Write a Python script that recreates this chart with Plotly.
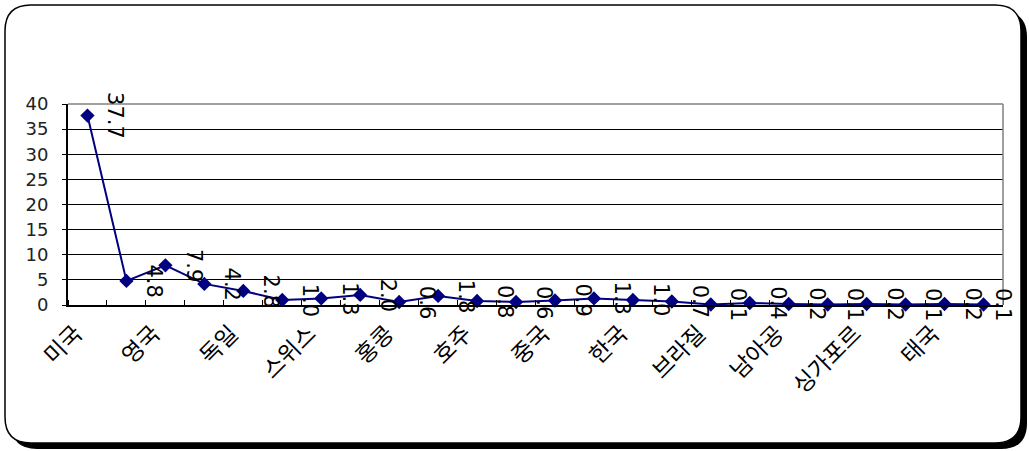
import plotly.graph_objects as go

# ---- data ----
countries_all = ["미국", "", "영국", "", "독일", "", "스위스", "", "홍콩", "", "호주", "",
                 "중국", "", "한국", "", "브라질", "", "남아공", "", "싱가포르", "", "태국", ""]
values = [37.7, 4.8, 7.9, 4.2, 2.8, 1.0, 1.3, 2.0, 0.6, 1.8, 0.8, 0.6,
          0.9, 1.3, 1.0, 0.7, 0.1, 0.4, 0.2, 0.1, 0.2, 0.1, 0.2, 0.1]
y_ticks = [0, 5, 10, 15, 20, 25, 30, 35, 40]

W, H = 1029, 451
L, R, T, B = 68, 1003, 104, 305  # plot area pixel bounds

def px(X):
    return (X - L) / (R - L)

def py(Y):
    return (B - Y) / (B - T)

def rrect(x0, y0, x1, y1, r):
    p = []
    p.append(f"M {px(x0+r)} {py(y0)}")
    p.append(f"L {px(x1-r)} {py(y0)}")
    p.append(f"Q {px(x1)} {py(y0)} {px(x1)} {py(y0+r)}")
    p.append(f"L {px(x1)} {py(y1-r)}")
    p.append(f"Q {px(x1)} {py(y1)} {px(x1-r)} {py(y1)}")
    p.append(f"L {px(x0+r)} {py(y1)}")
    p.append(f"Q {px(x0)} {py(y1)} {px(x0)} {py(y1-r)}")
    p.append(f"L {px(x0)} {py(y0+r)}")
    p.append(f"Q {px(x0)} {py(y0)} {px(x0+r)} {py(y0)}")
    p.append("Z")
    return " ".join(p)

xs = list(range(len(values)))
tickvals = [i for i, c in enumerate(countries_all) if c]
ticktext = [c for c in countries_all if c]

fig = go.Figure()
fig.add_trace(go.Scatter(
    x=xs, y=values, mode="lines+markers",
    line=dict(color="#000080", width=2),
    marker=dict(symbol="diamond", size=11, color="#000080"),
    cliponaxis=False, showlegend=False, hoverinfo="skip"))

annotations = []
for i, v in enumerate(values):
    annotations.append(dict(
        x=i, y=v, xref="x", yref="y", text=f"{v:.1f}", textangle=90,
        showarrow=False, xshift=28 if i < len(values) - 1 else 20,
        font=dict(family="DejaVu Sans, sans-serif", size=21, color="black")))

shapes = [
    # shadow
    dict(type="path", xref="paper", yref="paper", path=rrect(11, 11, 1027, 449, 26),
         fillcolor="black", line=dict(width=0), layer="below"),
    # frame
    dict(type="path", xref="paper", yref="paper", path=rrect(5, 5, 1021, 443, 26),
         fillcolor="white", line=dict(color="black", width=1.5), layer="below"),
    # plot area top/right border (gray)
    dict(type="line", xref="paper", yref="paper", x0=0, x1=1, y0=1, y1=1,
         line=dict(color="#808080", width=1.5), layer="above"),
    dict(type="line", xref="paper", yref="paper", x0=1, x1=1, y0=0, y1=1,
         line=dict(color="#808080", width=1.5), layer="above"),
]

fig.update_layout(
    width=W, height=H,
    margin=dict(l=L, r=W - R, t=T, b=H - B),
    paper_bgcolor="white", plot_bgcolor="rgba(0,0,0,0)",
    annotations=annotations, shapes=shapes,
    font=dict(family="DejaVu Sans, Noto Sans CJK KR, sans-serif", color="black"),
    xaxis=dict(
        range=[-0.5, 23.5], tickmode="array", tickvals=tickvals, ticktext=ticktext,
        tickangle=-45, ticks="", showgrid=False, zeroline=False,
        showline=True, linecolor="black", linewidth=2,
        tickfont=dict(family="Noto Sans CJK KR, sans-serif", size=23, color="black"),
        ticklabelstandoff=4, ticklabelshift=-12,
        minor=dict(tickvals=[k + 0.5 for k in range(-1, 24)], ticks="inside",
                   ticklen=5, tickcolor="black", tickwidth=1, showgrid=False),
    ),
    yaxis=dict(
        range=[0, 40], tickmode="array", tickvals=y_ticks,
        showgrid=True, gridcolor="black", gridwidth=1, zeroline=False,
        showline=True, linecolor="black", linewidth=2,
        ticks="outside", ticklen=4, tickcolor="black",
        tickfont=dict(family="DejaVu Sans, sans-serif", size=18, color="#222"),
        ticklabelstandoff=10,
    ),
)

fig.write_html("out.html")
